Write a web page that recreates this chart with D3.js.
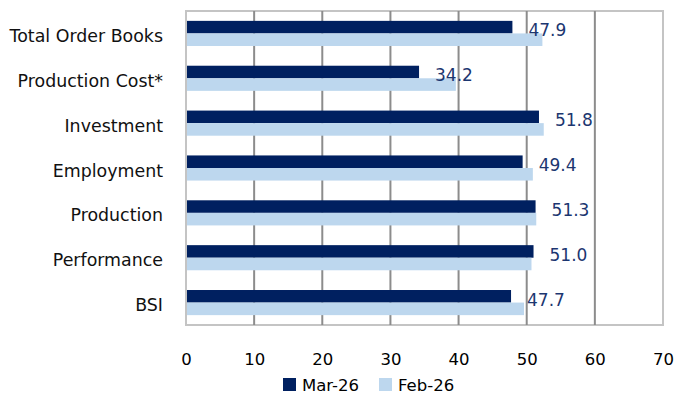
<!DOCTYPE html>
<html>
<head>
<meta charset="utf-8">
<script src="https://cdn.jsdelivr.net/npm/d3@7"></script>
<style>
  html, body { margin: 0; padding: 0; background: #fff; }
  svg { display: block; font-family: "DejaVu Sans", sans-serif; }
</style>
</head>
<body>
<svg id="chart" width="675" height="394"></svg>
<script>
const categories = ["Total Order Books", "Production Cost*", "Investment", "Employment", "Production", "Performance", "BSI"];
const seriesNames = ["Mar-26", "Feb-26"];
const mar26 = [47.9, 34.2, 51.8, 49.4, 51.3, 51.0, 47.7];
const feb26 = [52.3, 39.6, 52.5, 50.9, 51.4, 50.7, 49.6];
const xTicks = [0, 10, 20, 30, 40, 50, 60, 70];
const colors = ["#002060", "#BDD7EE"];

const svg = d3.select("#chart");
const plotLeft = 186, plotRight = 663, plotTop = 11, plotBottom = 325;

const x = d3.scaleLinear().domain([0, 70]).range([plotLeft, plotRight]);
const y = d3.scaleBand().domain(categories).range([plotTop, plotBottom]).paddingInner(0.44).paddingOuter(0.22);
const ySub = d3.scaleBand().domain(seriesNames).range([0, y.bandwidth()]);

// plot border
svg.append("rect")
  .attr("x", plotLeft).attr("y", plotTop)
  .attr("width", plotRight - plotLeft).attr("height", plotBottom - plotTop)
  .attr("fill", "none").attr("stroke", "#c4c4c4").attr("stroke-width", 2);

// gridlines
svg.append("g")
  .selectAll("line")
  .data(xTicks.filter(d => d > 0 && d < 70))
  .join("line")
  .attr("x1", d => x(d)).attr("x2", d => x(d))
  .attr("y1", plotTop).attr("y2", plotBottom)
  .attr("stroke", "#8c8c8c").attr("stroke-width", 2);

// bars
const series = [mar26, feb26];
series.forEach((vals, si) => {
  svg.append("g")
    .selectAll("rect")
    .data(categories)
    .join("rect")
    .attr("x", x(0) + 1)
    .attr("y", c => y(c) + ySub(seriesNames[si]))
    .attr("width", (c, i) => x(vals[i]) - x(0) - 1)
    .attr("height", ySub.bandwidth())
    .attr("fill", colors[si]);
});

// data labels (Mar-26)
svg.append("g")
  .selectAll("text")
  .data(categories)
  .join("text")
  .attr("x", (c, i) => x(mar26[i]) + 16)
  .attr("y", c => y(c) + y.bandwidth() / 2 - 3)
  .attr("dominant-baseline", "central")
  .attr("font-size", "17px")
  .attr("fill", "#1c3670")
  .text((c, i) => mar26[i].toFixed(1));

// y axis labels
const yAxis = d3.axisLeft(y).tickSize(0).tickPadding(0);
const yg = svg.append("g").attr("transform", `translate(${plotLeft - 23},3)`).call(yAxis);
yg.select(".domain").remove();
yg.selectAll("text").attr("font-size", "17.4px").attr("fill", "#111").attr("font-family", "DejaVu Sans, sans-serif");

// x axis labels
const xAxis = d3.axisBottom(x).tickValues(xTicks).tickSize(0).tickPadding(0).tickFormat(d3.format("d"));
const xg = svg.append("g").attr("transform", `translate(0,${plotBottom + 28})`).call(xAxis);
xg.select(".domain").remove();
xg.selectAll("text").attr("font-size", "16.5px").attr("fill", "#000").attr("font-family", "DejaVu Sans, sans-serif");

// legend
const legendX = [283, 379];
seriesNames.forEach((name, i) => {
  const g = svg.append("g").attr("transform", `translate(${legendX[i]},378)`);
  g.append("rect").attr("width", 13).attr("height", 13).attr("fill", colors[i]);
  g.append("text").attr("x", 19).attr("y", 7.5).attr("dominant-baseline", "central")
    .attr("font-size", "16.5px").attr("fill", "#000").text(name);
});
</script>
</body>
</html>
